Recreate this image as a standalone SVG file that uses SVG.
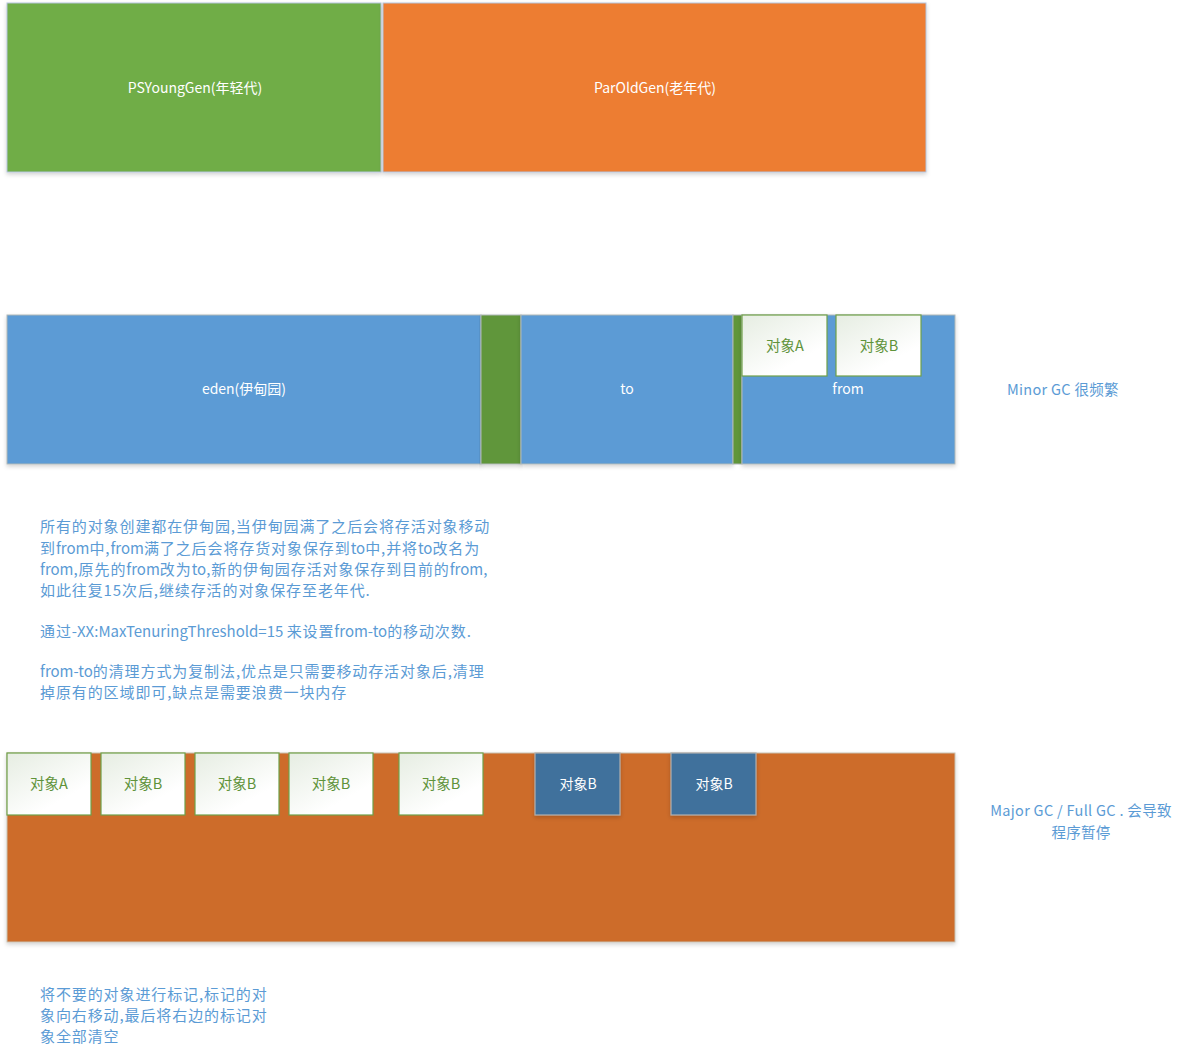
<svg xmlns="http://www.w3.org/2000/svg" width="1180" height="1053" viewBox="0 0 1180 1053">
<defs>
<filter id="sh" x="-5%" y="-5%" width="110%" height="120%">
<feDropShadow dx="0" dy="2" stdDeviation="2" flood-color="#000" flood-opacity="0.18"/>
</filter>
<linearGradient id="obj" x1="0" y1="0" x2="0.6" y2="0.8">
<stop offset="0" stop-color="#e6ede2"/>
<stop offset="1" stop-color="#ffffff"/>
</linearGradient>
</defs>
<style>
text{font-family:"Noto Sans CJK SC","Noto Sans",sans-serif;}
.lbl{font-size:14px;fill:#ffffff;text-anchor:middle;}
.olbl{font-size:14.5px;fill:#5f933a;text-anchor:middle;}
.note{font-size:14.5px;fill:#5b9bd5;letter-spacing:0.3px;}
.para{font-size:15px;fill:#5b9bd5;letter-spacing:0.9px;}
.la{letter-spacing:0px;}
.obj{fill:url(#obj);stroke:#6fa048;stroke-width:1.2;}
.dobj{fill:#41719c;stroke:#b0b0b0;stroke-width:1.2;}
</style>

<g id="young">
<rect x="7" y="3" width="374" height="169" fill="#70ad47" stroke="#b4c4dc" stroke-width="1" filter="url(#sh)"/>
<text class="lbl" x="195" y="93">PSYoungGen(年轻代)</text>
</g>
<g id="old">
<rect x="383" y="3" width="543" height="169" fill="#ed7d31" stroke="#b4c4dc" stroke-width="1" filter="url(#sh)"/>
<text class="lbl" x="655" y="93">ParOldGen(老年代)</text>
</g>

<g id="eden">
<rect x="7" y="315" width="474" height="149" fill="#5b9bd5" stroke="#b0b8b8" stroke-width="1" filter="url(#sh)"/>
<text class="lbl" x="244" y="394">eden(伊甸园)</text>
</g>
<g id="bar1">
<rect x="481" y="315" width="40" height="149" fill="#60963a" stroke="#b0b8b8" stroke-width="1" filter="url(#sh)"/>
</g>
<g id="to">
<rect x="521" y="315" width="212" height="149" fill="#5b9bd5" stroke="#b0b8b8" stroke-width="1" filter="url(#sh)"/>
<text class="lbl" x="627" y="394">to</text>
</g>
<g id="bar2">
<rect x="733" y="315" width="9" height="149" fill="#60963a" stroke="#b0b8b8" stroke-width="1"/>
</g>
<g id="from">
<rect x="742" y="315" width="213" height="149" fill="#5b9bd5" stroke="#b0b8b8" stroke-width="1" filter="url(#sh)"/>
<text class="lbl" x="848" y="394">from</text>
</g>
<g id="fromA">
<rect class="obj" x="742" y="315" width="85" height="61"/>
<text class="olbl" x="785" y="351">对象A</text>
</g>
<g id="fromB">
<rect class="obj" x="836" y="315" width="85" height="61"/>
<text class="olbl" x="879" y="351">对象B</text>
</g>
<g id="minor">
<text class="note" x="1007" y="395">Minor GC 很频繁</text>
</g>

<g id="desc1">
<text class="para" x="40" y="532">所有的对象创建都在伊甸园,当伊甸园满了之后会将存活对象移动</text>
<text class="para" x="40" y="554">到<tspan class="la">from</tspan>中,<tspan class="la">from</tspan>满了之后会将存货对象保存到<tspan class="la">to</tspan>中,并将<tspan class="la">to</tspan>改名为</text>
<text class="para" x="40" y="575"><tspan class="la">from</tspan>,原先的<tspan class="la">from</tspan>改为<tspan class="la">to</tspan>,新的伊甸园存活对象保存到目前的<tspan class="la">from</tspan>,</text>
<text class="para" x="40" y="596">如此往复15次后,继续存活的对象保存至老年代.</text>
<text class="para" x="40" y="637">通过<tspan class="la">-XX:MaxTenuringThreshold=15 </tspan>来设置<tspan class="la">from-to</tspan>的移动次数.</text>
<text class="para" x="40" y="677"><tspan class="la">from-to</tspan>的清理方式为复制法,优点是只需要移动存活对象后,清理</text>
<text class="para" x="40" y="698">掉原有的区域即可,缺点是需要浪费一块内存</text>
</g>

<g id="oldArea">
<rect x="7" y="753" width="948" height="189" fill="#cd6c2b" stroke="#c8c0b0" stroke-width="1" filter="url(#sh)"/>
</g>
<g id="o1"><rect class="obj" x="7" y="753" width="84" height="62"/><text class="olbl" x="49" y="789">对象A</text></g>
<g id="o2"><rect class="obj" x="101" y="753" width="84" height="62"/><text class="olbl" x="143" y="789">对象B</text></g>
<g id="o3"><rect class="obj" x="195" y="753" width="84" height="62"/><text class="olbl" x="237" y="789">对象B</text></g>
<g id="o4"><rect class="obj" x="289" y="753" width="84" height="62"/><text class="olbl" x="331" y="789">对象B</text></g>
<g id="o5"><rect class="obj" x="399" y="753" width="84" height="62"/><text class="olbl" x="441" y="789">对象B</text></g>
<g id="o6"><rect class="dobj" x="535" y="753" width="85" height="62" filter="url(#sh)"/><text class="lbl" x="578" y="789">对象B</text></g>
<g id="o7"><rect class="dobj" x="671" y="753" width="85" height="62" filter="url(#sh)"/><text class="lbl" x="714" y="789">对象B</text></g>
<g id="major">
<text class="note" x="1081" y="816" text-anchor="middle">Major GC / Full GC . 会导致</text>
<text class="note" x="1081" y="838" text-anchor="middle">程序暂停</text>
</g>

<g id="desc2">
<text class="para" x="40" y="1000">将不要的对象进行标记,标记的对</text>
<text class="para" x="40" y="1021">象向右移动,最后将右边的标记对</text>
<text class="para" x="40" y="1042">象全部清空</text>
</g>
<g id="connectors"></g>
</svg>
